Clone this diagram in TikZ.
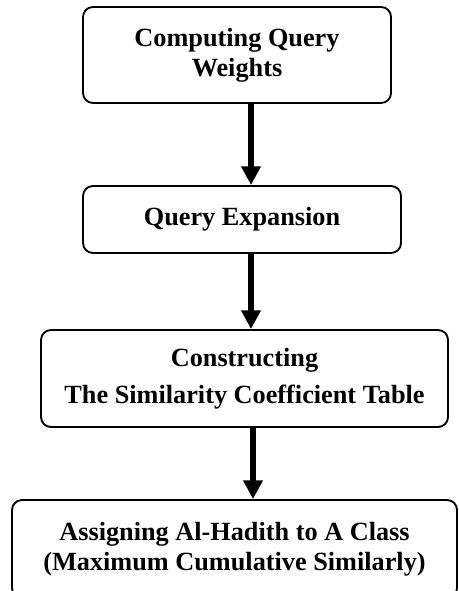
\documentclass[tikz,border=0pt]{standalone}
\usepackage{fontspec}
\setmainfont{Liberation Serif}
\usetikzlibrary{arrows.meta}
\begin{document}
\begin{tikzpicture}[x=0.75pt,y=-0.75pt,
  box/.style={draw, line width=1.4pt, rounded corners=7.5pt, inner sep=0pt, align=center,
    font=\fontsize{19.7}{22.5}\selectfont\bfseries},
  arr/.style={line width=3.8pt, -{Triangle[width=14pt,length=14pt]}}]
\clip (0,0) rectangle (458,591);
\node[box, minimum width=231pt, minimum height=72pt] (b1) at (237,55) {Computing Query\\Weights};
\node[box, minimum width=238.5pt, minimum height=50.25pt] (b2) at (242,219.5) {Query Expansion};
\node[box, minimum width=305.25pt, minimum height=72.75pt] (b3) at (244.5,378.5) {Constructing\\[5.25pt]The Similarity Coefficient Table};
\node[box, minimum width=333.75pt, minimum height=73.5pt] (b4) at (234.5,549) {Assigning Al-Hadith to A Class\\(Maximum Cumulative Similarly)};
\coordinate (ax) at (251,0);
\coordinate (ay) at (253,0);
\draw[arr] (b1.south -| ax) -- (b2.north -| ax);
\draw[arr] (b2.south -| ax) -- (b3.north -| ax);
\draw[arr] (b3.south -| ay) -- (b4.north -| ay);
\end{tikzpicture}
\end{document}
